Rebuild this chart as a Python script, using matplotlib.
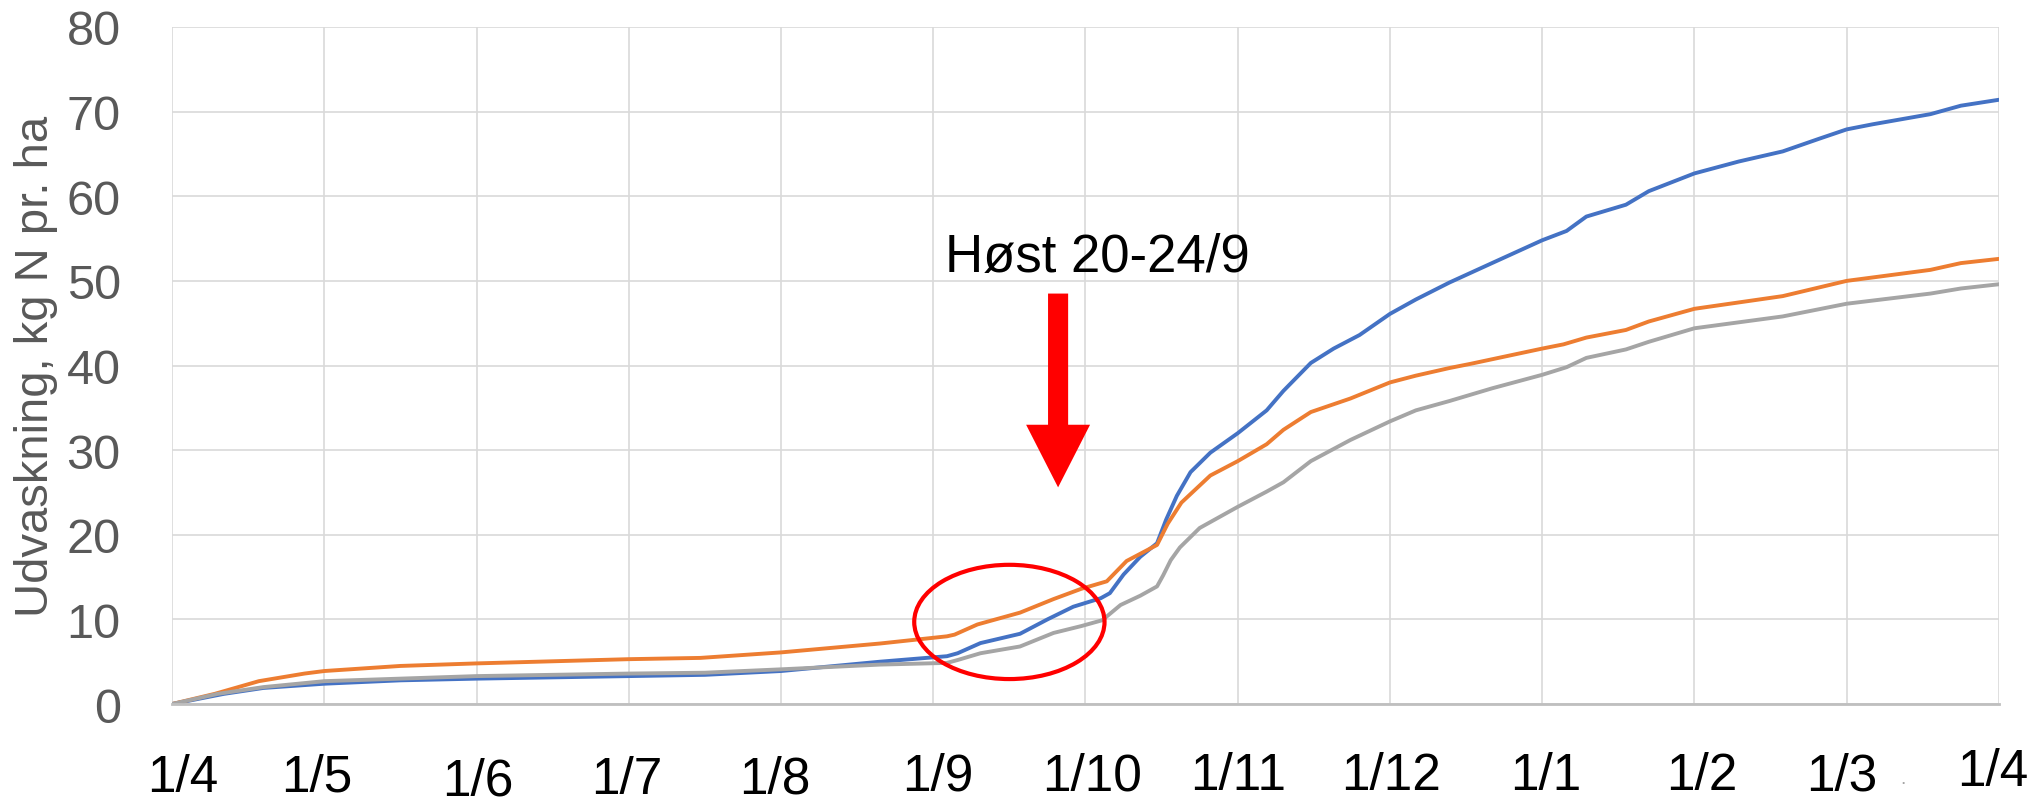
import matplotlib
matplotlib.use("Agg")
import matplotlib.pyplot as plt
import matplotlib.patches as mpatches

# x = months after 1 April (month grid is evenly spaced in the original)
blue_x = [0, 0.34, 0.6, 1, 1.5, 2, 3, 3.5, 4, 4.65, 5.09, 5.16, 5.31, 5.57, 5.75, 5.92, 6.10, 6.16,
          6.25, 6.36, 6.47, 6.53, 6.60, 6.69, 6.82, 7.0, 7.19, 7.30, 7.48, 7.63, 7.80, 8.0, 8.17, 8.39,
          8.67, 9, 9.16, 9.29, 9.55, 9.70, 10, 10.29, 10.58, 10.82, 11, 11.17, 11.55, 11.75, 12]
blue_y = [0, 1.2, 1.9, 2.4, 2.8, 3.0, 3.3, 3.45, 3.9, 5.0, 5.65, 6.0, 7.2, 8.3, 10.0, 11.5, 12.5, 13.1,
          15.3, 17.4, 19.0, 21.8, 24.6, 27.4, 29.7, 32.0, 34.7, 37.0, 40.3, 42.0, 43.6, 46.1, 47.8, 49.8,
          52.1, 54.8, 55.9, 57.6, 59.0, 60.6, 62.7, 64.1, 65.3, 66.8, 67.9, 68.5, 69.7, 70.7, 71.4]

orange_x = [0, 0.28, 0.57, 0.87, 1, 1.5, 2, 3, 3.47, 4, 4.65, 5.09, 5.14, 5.29, 5.57, 5.79, 5.97, 6.14,
            6.27, 6.47, 6.54, 6.63, 6.82, 7.0, 7.19, 7.30, 7.48, 7.74, 8.0, 8.17, 8.39, 8.53, 9, 9.14,
            9.29, 9.55, 9.70, 10, 10.58, 11, 11.55, 11.75, 12]
orange_y = [0, 1.2, 2.7, 3.6, 3.9, 4.5, 4.8, 5.3, 5.45, 6.1, 7.15, 8.0, 8.2, 9.4, 10.8, 12.4, 13.6, 14.5,
            16.9, 18.8, 21.3, 23.8, 27.0, 28.7, 30.7, 32.4, 34.5, 36.1, 38.0, 38.8, 39.7, 40.2, 42.0, 42.5,
            43.3, 44.2, 45.2, 46.7, 48.2, 50.0, 51.3, 52.1, 52.6]

gray_x = [0, 0.3, 0.6, 1, 2, 3, 3.5, 4, 4.65, 5.09, 5.16, 5.31, 5.57, 5.79, 5.97, 6.11, 6.23, 6.36,
          6.47, 6.51, 6.56, 6.62, 6.75, 7.0, 7.19, 7.30, 7.48, 7.74, 8.0, 8.17, 8.39, 8.67, 9, 9.16,
          9.29, 9.55, 9.70, 10, 10.58, 11, 11.55, 11.75, 12]
gray_y = [0, 1.2, 2.0, 2.7, 3.3, 3.6, 3.7, 4.1, 4.66, 4.86, 5.2, 6.0, 6.8, 8.4, 9.2, 9.9, 11.7, 12.8,
          13.9, 15.2, 17.0, 18.5, 20.8, 23.3, 25.1, 26.2, 28.7, 31.2, 33.4, 34.7, 35.8, 37.3, 38.9, 39.8,
          40.9, 41.9, 42.8, 44.4, 45.8, 47.3, 48.5, 49.1, 49.6]

month_labels = ["1/4", "1/5", "1/6", "1/7", "1/8", "1/9", "1/10", "1/11", "1/12",
                "1/1", "1/2", "1/3", "1/4"]
y_ticks = [0, 10, 20, 30, 40, 50, 60, 70, 80]

plt.rcParams['font.family'] = ['Liberation Sans', 'DejaVu Sans']

fig = plt.figure(figsize=(20.36, 8.04), dpi=100)
ax = fig.add_axes([0.0845, 0.1231, 0.8973, 0.8421])

ax.plot(blue_x, blue_y, color="#4472C4", lw=2.8, solid_joinstyle="round", solid_capstyle="round", zorder=3)
ax.plot(orange_x, orange_y, color="#ED7D31", lw=2.8, solid_joinstyle="round", solid_capstyle="round", zorder=3)
ax.plot(gray_x, gray_y, color="#A5A5A5", lw=2.8, solid_joinstyle="round", solid_capstyle="round", zorder=3)

ax.set_xlim(0, 12)
ax.set_ylim(0, 80)
ax.set_xticks(range(13))
ax.set_xticklabels([])
ax.set_yticks(y_ticks)
ax.tick_params(axis="y", length=0, pad=37, labelsize=35, labelcolor="#595959")
ax.tick_params(axis="x", length=0)
ax.grid(True, color="#D9D9D9", lw=1.2)
ax.set_axisbelow(True)
for s in ["top", "right", "left"]:
    ax.spines[s].set_visible(False)
ax.spines["bottom"].set_color("#BFBFBF")
ax.spines["bottom"].set_linewidth(2)
ax.spines["bottom"].set_zorder(4)

# month labels, placed by hand in the original so they wobble a bit
dx = [0.07, -0.05, 0.01, -0.01, -0.04, 0.03, 0.04, 0.0, 0.01, 0.02, 0.05, -0.03, -0.04]
dy = [-0.108, -0.108, -0.114, -0.111, -0.110, -0.106, -0.106, -0.106, -0.105, -0.105, -0.105, -0.106, -0.099]
for i, lab in enumerate(month_labels):
    ax.text(i + dx[i], dy[i], lab, transform=ax.get_xaxis_transform(), ha="center", va="center",
            fontsize=37, color="black", clip_on=False)
ax.text(11.37, -0.110, ".", transform=ax.get_xaxis_transform(), ha="center", va="center",
        fontsize=14, color="#A5A5A5", clip_on=False)

fig.text(36 / 2036, 1 - 366 / 804, "Udvaskning, kg N pr. ha", rotation=90, ha="center", va="center",
         fontsize=34, color="#595959")

# harvest annotation
ax.text(5.08, 51.2, "Høst 20-24/9", fontsize=38, color="black", ha="left", va="baseline")
arrow = mpatches.FancyArrow(5.82, 48.5, 0, -22.9, width=0.132, head_width=0.42, head_length=7.4,
                            length_includes_head=True, color="#FF0000", lw=0, zorder=5)
ax.add_patch(arrow)
ell = mpatches.Ellipse((5.5, 9.7), 1.25, 13.5, fill=False, edgecolor="#FF0000", lw=3, zorder=5)
ax.add_patch(ell)

fig.savefig("out.png", dpi=100)
